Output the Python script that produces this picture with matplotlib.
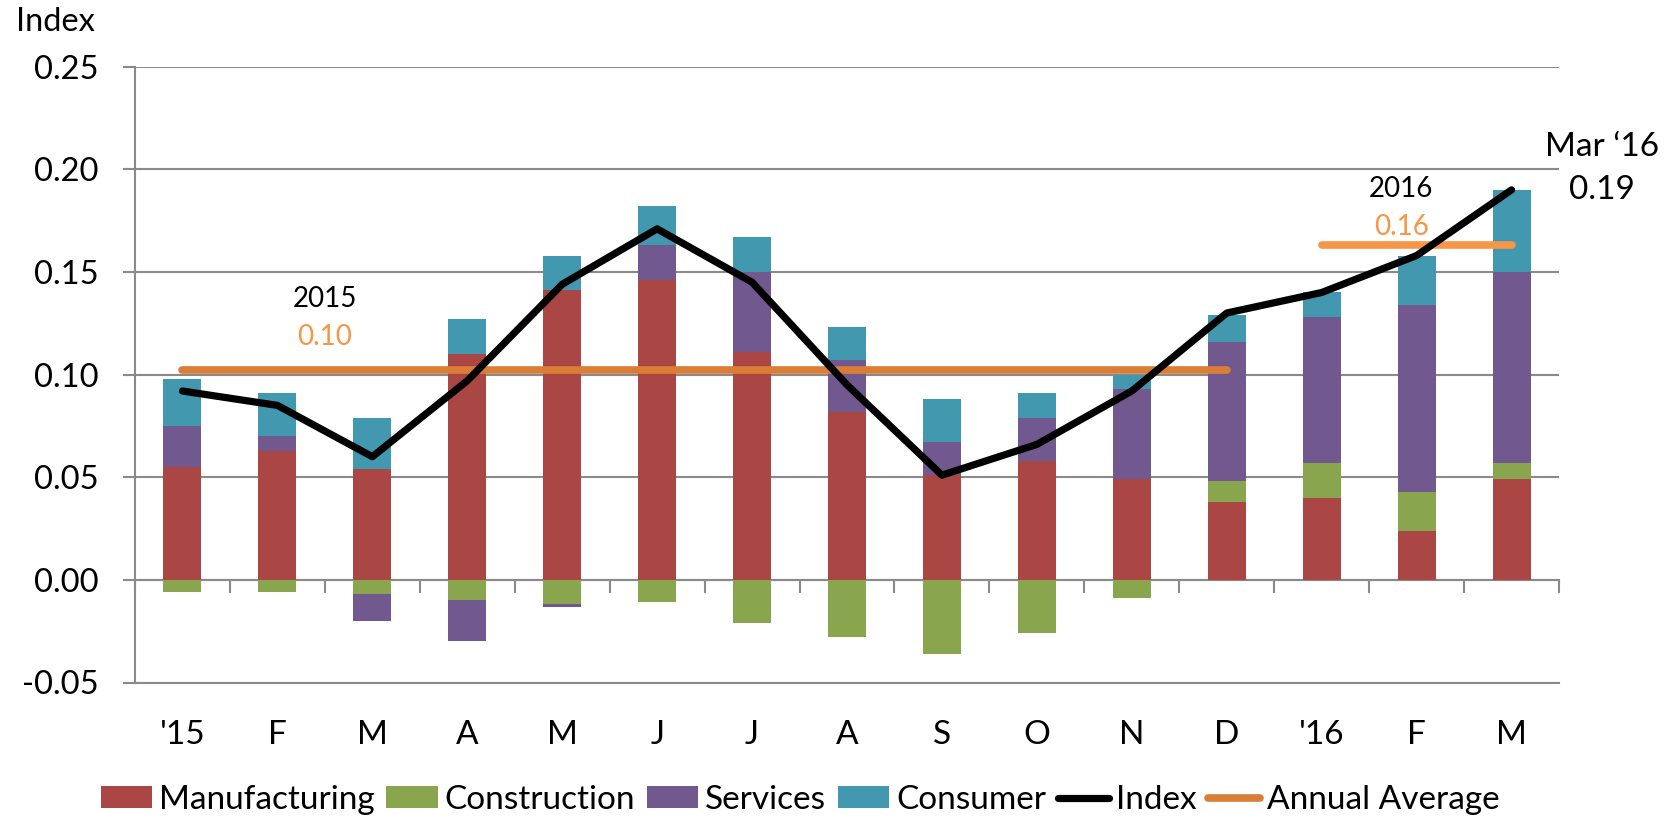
import matplotlib
matplotlib.use("Agg")
import matplotlib.pyplot as plt
from matplotlib.lines import Line2D
import numpy as np

plt.rcParams["font.family"] = ["Lato", "DejaVu Sans"]

months = ["'15", "F", "M", "A", "M", "J", "J", "A", "S", "O", "N", "D", "'16", "F", "M"]

# monthly contributions to the index, by sector
manufacturing = [0.055, 0.063, 0.054, 0.110, 0.141, 0.146, 0.111, 0.082, 0.051, 0.058, 0.049, 0.038, 0.040, 0.024, 0.049]
construction = [-0.006, -0.006, -0.007, -0.010, -0.012, -0.011, -0.021, -0.028, -0.036, -0.026, -0.009, 0.010, 0.017, 0.019, 0.008]
services = [0.020, 0.007, -0.013, -0.020, -0.001, 0.017, 0.039, 0.025, 0.016, 0.021, 0.044, 0.068, 0.071, 0.091, 0.093]
consumer = [0.023, 0.021, 0.025, 0.017, 0.017, 0.019, 0.017, 0.016, 0.021, 0.012, 0.007, 0.013, 0.012, 0.024, 0.040]

index = [0.092, 0.085, 0.060, 0.097, 0.144, 0.171, 0.145, 0.095, 0.051, 0.066, 0.092, 0.130, 0.140, 0.158, 0.190]

# annual averages: (first month, last month, value)
avg_years = ["2015", "2016"]
avg_spans = [(0, 11), (12, 14)]
avg_values = [0.102, 0.163]

series = [
    ("Manufacturing", manufacturing, "#AA4643"),
    ("Construction", construction, "#89A54E"),
    ("Services", services, "#71588F"),
    ("Consumer", consumer, "#4198AF"),
]

GRID = "#8A8A8A"

fig = plt.figure(figsize=(16.79, 8.18), dpi=100)
ax = fig.add_axes([135 / 1679, 1 - 682.5 / 818, 1424 / 1679, 615.8 / 818])

x = np.arange(len(months))
pos_bottom = np.zeros(len(months))
neg_bottom = np.zeros(len(months))
handles = []
for name, vals, color in series:
    vals = np.array(vals)
    bottom = np.where(vals >= 0, pos_bottom, neg_bottom)
    bars = ax.bar(x, vals, width=0.4, bottom=bottom, color=color, label=name, zorder=2)
    handles.append(bars)
    pos_bottom += np.clip(vals, 0, None)
    neg_bottom += np.clip(vals, None, 0)

ax.plot(x, index, color="black", lw=5.2, solid_capstyle="round", solid_joinstyle="round", zorder=4)

avg_colors = ["#DA7E37", "#F79646"]
for (a, b), v, c in zip(avg_spans, avg_values, avg_colors):
    ax.plot([a, b], [v, v], color=c, lw=5.5, solid_capstyle="round", zorder=3)

# year labels above the average lines
ax.text(1.5, 0.137, avg_years[0], ha="center", va="center", fontsize=20)
ax.text(1.5, 0.1185, f"{avg_values[0]:.2f}", ha="center", va="center", fontsize=20, color="#F79646")
ax.text(12.84, 0.1906, avg_years[1], ha="center", va="center", fontsize=20)
ax.text(12.84, 0.172, f"{avg_values[1]:.2f}", ha="center", va="center", fontsize=20, color="#F79646")
ax.text(14.95, 0.211, "Mar \u201816", ha="center", va="center", fontsize=24)
ax.text(14.95, 0.190, f"{index[-1]:.2f}", ha="center", va="center", fontsize=24)

ax.set_xlim(-0.5, len(months) - 0.5)
ax.set_ylim(-0.05, 0.25)
ax.set_yticks(np.arange(-0.05, 0.2501, 0.05))
ax.set_yticklabels([f"{v:.2f}" for v in np.arange(-0.05, 0.2501, 0.05)])
ax.yaxis.grid(True, color=GRID, lw=1.5, zorder=0)
ax.set_axisbelow(True)

ax.set_xticks(x)
ax.set_xticklabels(months, fontsize=24)
ax.tick_params(axis="x", length=0, pad=27)
ax.tick_params(axis="y", direction="out", length=9, width=1.5, color=GRID, labelsize=23.5, pad=17)

for side in ["top", "right"]:
    ax.spines[side].set_visible(False)
ax.spines["left"].set_color(GRID)
ax.spines["left"].set_linewidth(1.5)
ax.spines["bottom"].set_color(GRID)
ax.spines["bottom"].set_linewidth(1.5)

# zero line with month separators
zero = ax.secondary_xaxis(0, transform=ax.transData)
zero.set_xticks(np.arange(-0.5, len(months), 1.0))
zero.tick_params(direction="out", length=9, width=1.5, color=GRID, labelbottom=False)
zero.spines["bottom"].set_color(GRID)
zero.spines["bottom"].set_linewidth(1.5)

fig.text(55 / 1679, 1 - 22 / 818, "Index", ha="center", va="center", fontsize=23.5)

handles += [
    Line2D([], [], color="black", lw=5.2, solid_capstyle="round"),
    Line2D([], [], color="#DA7E37", lw=5.5, solid_capstyle="round"),
]
labels = [s[0] for s in series] + ["Index", "Annual Average"]
fig.legend(handles, labels, loc="center", bbox_to_anchor=(800 / 1679, 1 - 800 / 818), ncol=6,
           frameon=False, fontsize=24, handlelength=1.55, handleheight=0.62,
           handletextpad=0.2, columnspacing=0.35, borderpad=0)

fig.savefig("out.png", dpi=100)
